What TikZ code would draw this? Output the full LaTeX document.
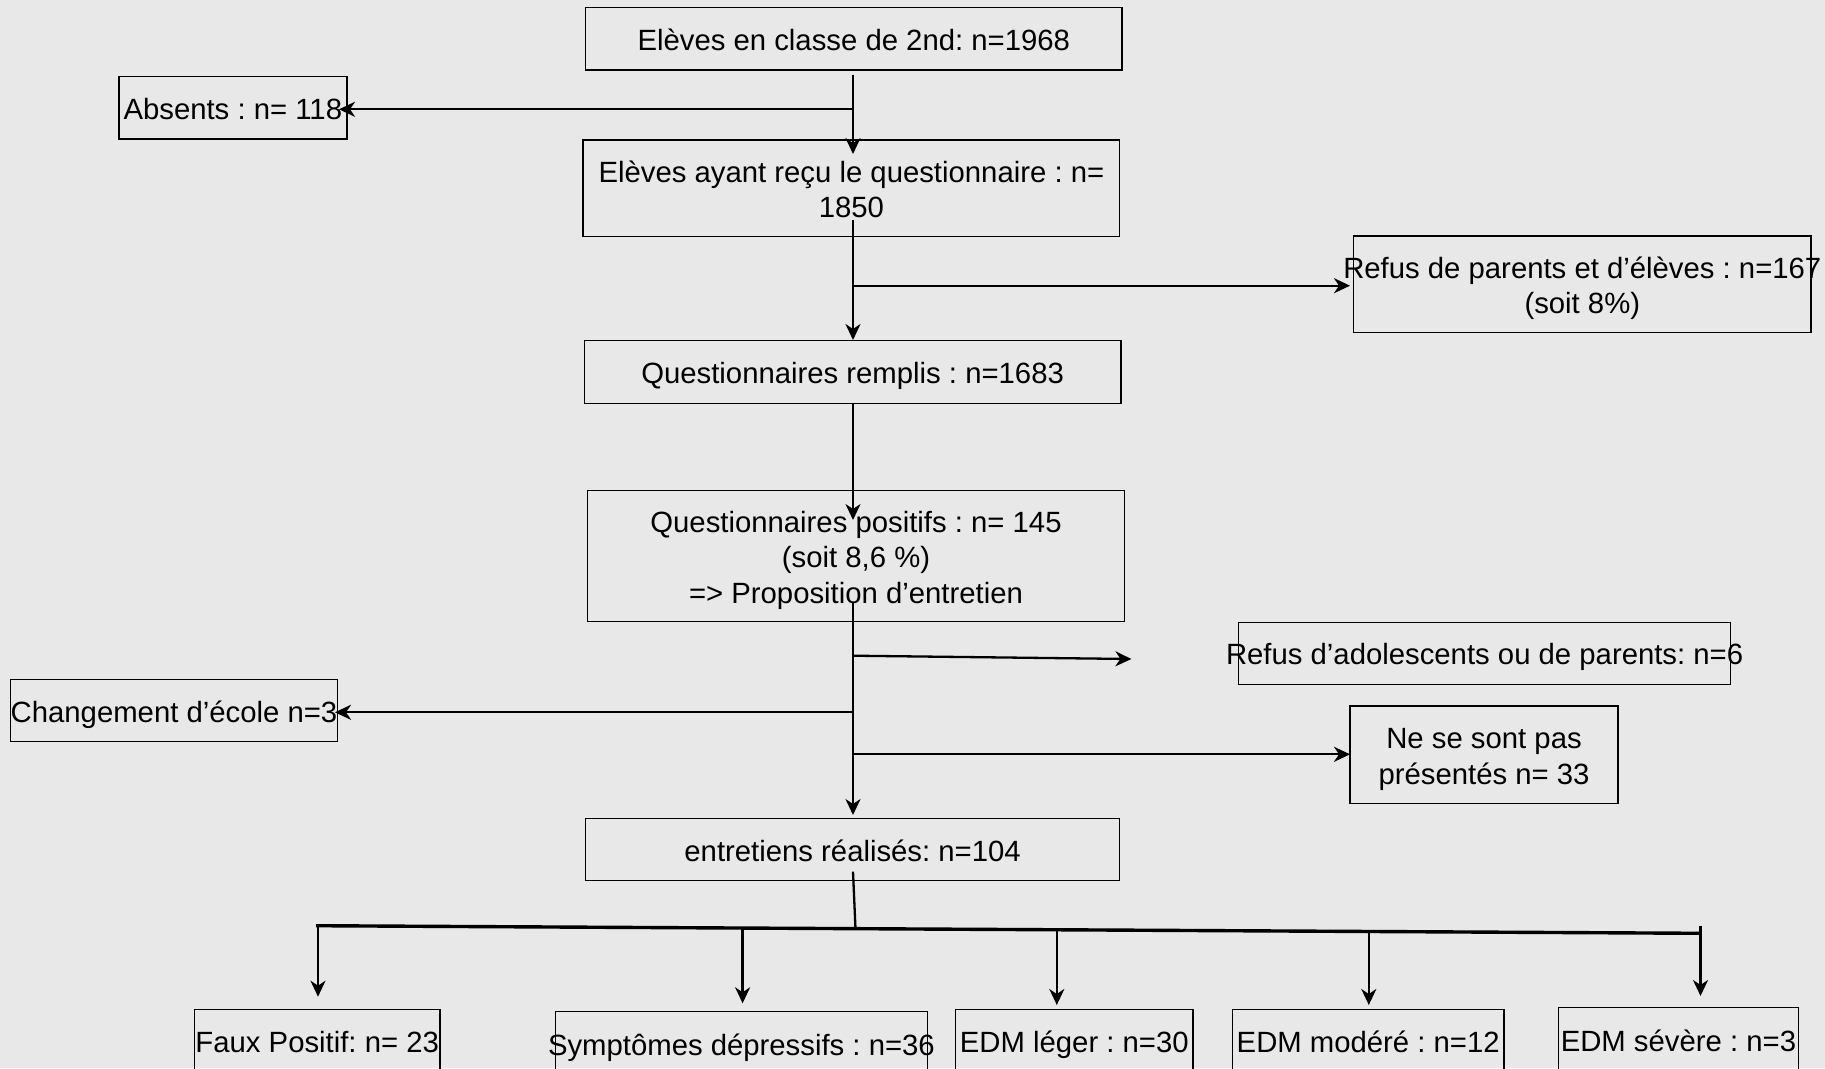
\documentclass[tikz,border=0pt]{standalone}
\usepackage{fontspec}
\setmainfont{Liberation Sans}
\usetikzlibrary{arrows.meta,calc}
\definecolor{bg}{RGB}{232,232,232}
\newcommand{\bt}[1]{\makebox[0pt]{\begin{tabular}{@{}c@{}}#1\end{tabular}}}
\frenchspacing
\begin{document}
\begin{tikzpicture}[x=1pt,y=-1pt,
  bx/.style={draw=black, line width=1.4pt, inner sep=0pt, outer sep=0pt,
    text height=21.4pt, text depth=0pt, font=\fontsize{29.3}{35.5}\selectfont\frenchspacing},
  conn/.style={line width=2.3pt, draw=black},
  arr/.style={conn, -{Stealth[length=16pt,width=15pt,inset=5pt]}},
  bar/.style={line width=3.4pt, draw=black}
]
\fill[bg] (0,0) rectangle (1825,1068);
\useasboundingbox (0,0) rectangle (1825,1068);
\clip (0,0) rectangle (1825,1068);

% boxes
\node[bx, minimum width=536.5pt, minimum height=62.7pt] (top) at (853.8,38.7) {\bt{Elèves en classe de 2nd: n=1968}};
\node[bx, minimum width=228pt, minimum height=62.3pt] (abs) at (232.8,107.9) {\bt{Absents : n= 118}};
\node[bx, minimum width=536.6pt, minimum height=96.7pt] (recu) at (851.4,188.4) {\bt{Elèves ayant reçu le questionnaire : n=\\1850}};
\node[bx, minimum width=457.4pt, minimum height=96.7pt] (refp) at (1582.3,284.4) {\bt{Refus de parents et d’élèves : n=167\\(soit 8\%)}};
\node[bx, minimum width=536.5pt, minimum height=62.6pt] (rempl) at (852.6,372) {\bt{Questionnaires remplis : n=1683}};
\node[bx, minimum width=536.5pt, minimum height=131pt] (pos) at (856,556.2) {\bt{Questionnaires positifs : n= 145\\(soit 8,6 \%)\\=> Proposition d’entretien}};
\node[bx, minimum width=492.3pt, minimum height=62pt] (refa) at (1484.6,653.3) {\bt{Refus d’adolescents ou de parents: n=6}};
\node[bx, minimum width=327pt, minimum height=62.4pt] (chg) at (174,710.5) {\bt{Changement d’école n=3}};
\node[bx, minimum width=267.7pt, minimum height=97.3pt] (nsp) at (1484,754.7) {\bt{Ne se sont pas\\présentés n= 33}};
\node[bx, minimum width=534.3pt, minimum height=62.4pt] (entr) at (852.6,849.5) {\bt{entretiens réalisés: n=104}};
\node[bx, minimum width=245.6pt, minimum height=64pt] (fp) at (317.2,1041.3) {\bt{Faux Positif: n= 23}};
\node[bx, minimum width=372.4pt, minimum height=64pt] (sym) at (741.4,1043.7) {\bt{Symptômes dépressifs : n=36}};
\node[bx, minimum width=237.4pt, minimum height=64pt] (leg) at (1074.3,1041.3) {\bt{EDM léger : n=30}};
\node[bx, minimum width=271.2pt, minimum height=64pt] (mod) at (1368.2,1041.3) {\bt{EDM modéré : n=12}};
\node[bx, minimum width=239.8pt, minimum height=64pt] (sev) at (1678.4,1039.7) {\bt{EDM sévère : n=3}};

% coordinates
\coordinate (s1) at (853,75);
\coordinate (j1) at (853,109.3);
\coordinate (t1) at (853,154);
\coordinate (tabs) at (339,109.3);

\coordinate (s2) at (853,220);
\coordinate (j2) at (853,285.7);
\coordinate (t2) at (853,340);
\coordinate (trefp) at (1350,285.7);

\coordinate (s3) at (853,403.3);
\coordinate (t3) at (853,520);

\coordinate (s4) at (853,601.7);
\coordinate (t4) at (853,815);
\coordinate (j4a) at (853,655.7);
\coordinate (trefa) at (1131.4,659);
\coordinate (j4b) at (853,712.3);
\coordinate (tchg) at (335,712.3);
\coordinate (j4c) at (853,754.3);
\coordinate (tnsp) at (1350,754.3);

\coordinate (s5) at (853,871.7);
\coordinate (j5) at (855.5,929.2);
\coordinate (bl) at (316,925.7);
\coordinate (br) at (1701.5,933.3);

% connectors
\draw[arr] (s1) -- (t1);
\draw[arr] (j1) -- (tabs);

\draw[arr] (s2) -- (t2);
\draw[arr] (j2) -- (trefp);

\draw[arr] (s3) -- (t3);

\draw[arr] (s4) -- (t4);
\draw[arr] (j4a) -- (trefa);
\draw[arr] (j4b) -- (tchg);
\draw[arr] (j4c) -- (tnsp);

\draw[conn] (s5) -- (j5);
\draw[bar] (bl) -- (br);

\draw[arr] (318,925.7) -- (318,996.7);
\draw[arr] (742.6,928.5) -- (742.6,1003.3);
\draw[arr] (1056.8,930) -- (1056.8,1005);
\draw[arr] (1368.8,931.5) -- (1368.8,1005);
\draw[arr] (1700.5,925.7) -- (1700.5,996);
\end{tikzpicture}
\end{document}
